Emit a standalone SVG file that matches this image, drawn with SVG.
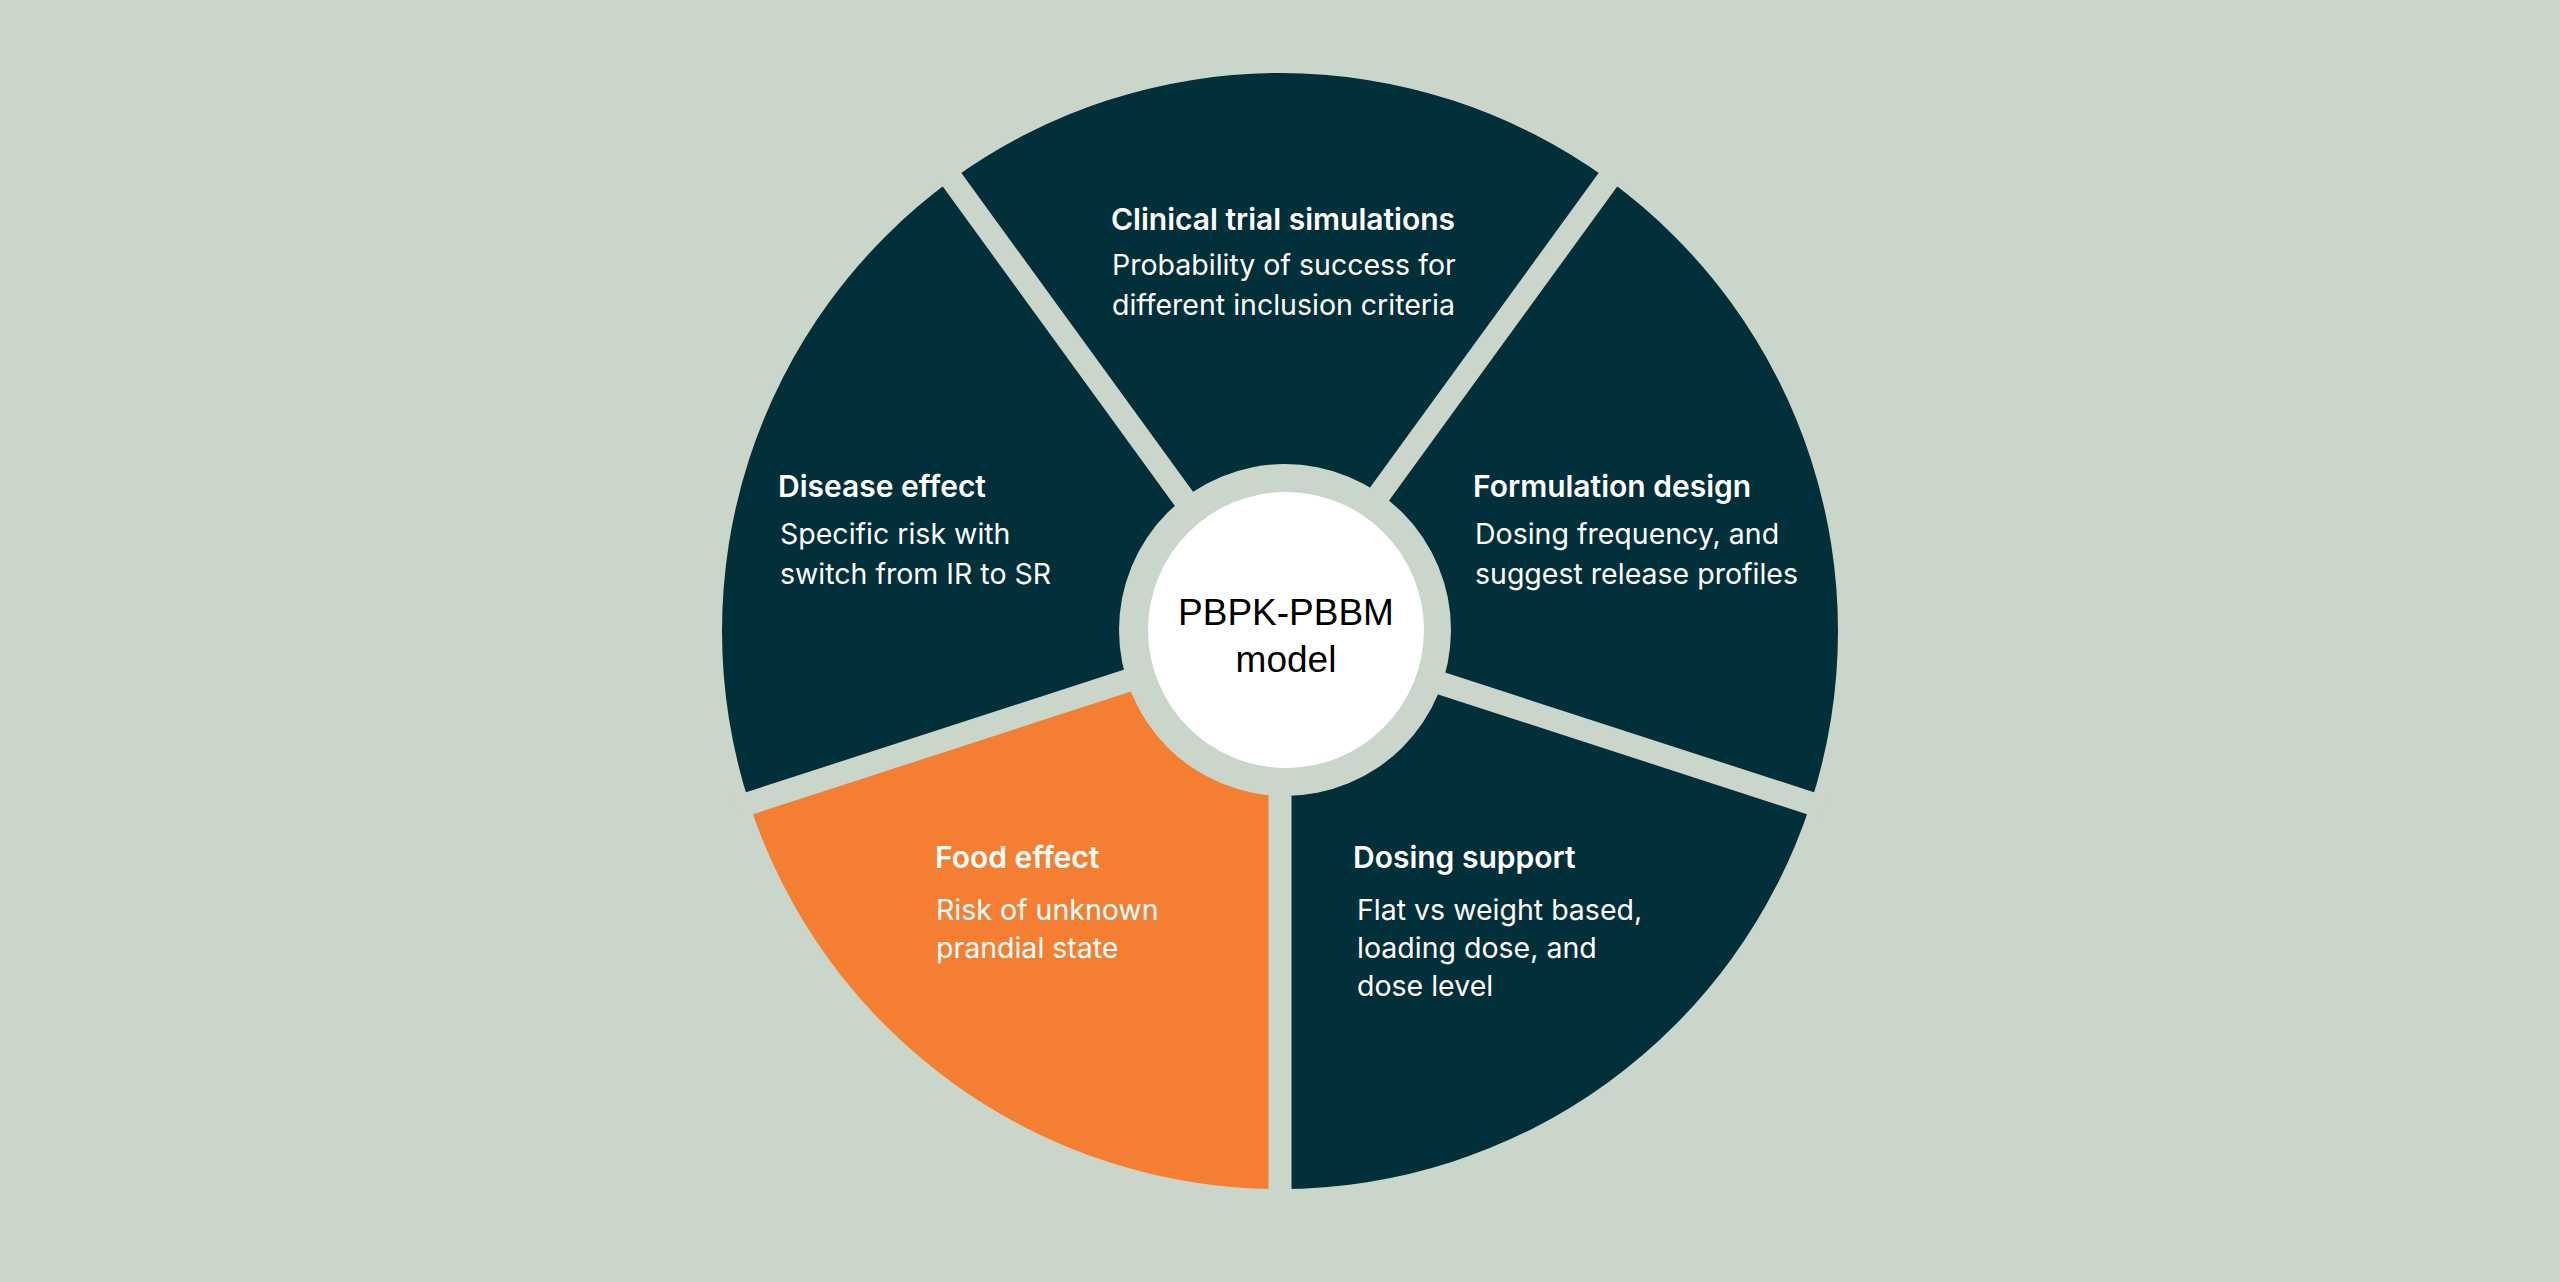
<svg xmlns="http://www.w3.org/2000/svg" width="2560" height="1282" viewBox="0 0 2560 1282">
<style>
.dark{fill:#02303a}
.orange{fill:#f47f33}
.t{font-family:Inter,"Liberation Sans",sans-serif;font-size:30px;font-weight:600;fill:#ffffff}
.b{font-family:Inter,"Liberation Sans",sans-serif;font-size:28.5px;fill:#ffffff}
.gap{stroke:#cbd6ca;stroke-width:23}
.c{font-family:"Liberation Sans",Arial,sans-serif;font-size:37px;fill:#000;text-anchor:middle}
</style>
<rect width="2560" height="1282" fill="#cbd6ca"/>
<g id="clinical">
<path class="dark" d="M1280 631 L952 179.6 A558 558 0 0 1 1608 179.6 Z"/>
<text class="t" x="1111" y="230">Clinical trial simulations</text>
<text class="b" x="1112" y="275">Probability of success for</text>
<text class="b" x="1112" y="315">different inclusion criteria</text>
</g>
<g id="formulation">
<path class="dark" d="M1280 631 L1608 179.6 A558 558 0 0 1 1810.7 803.4 Z"/>
<text class="t" x="1473" y="497">Formulation design</text>
<text class="b" x="1475" y="544">Dosing frequency, and</text>
<text class="b" x="1475" y="584">suggest release profiles</text>
</g>
<g id="dosing">
<path class="dark" d="M1280 631 L1810.7 803.4 A558 558 0 0 1 1280 1189 Z"/>
<text class="t" x="1353" y="868">Dosing support</text>
<text class="b" x="1357" y="920">Flat vs weight based,</text>
<text class="b" x="1357" y="958">loading dose, and</text>
<text class="b" x="1357" y="996">dose level</text>
</g>
<g id="food">
<path class="orange" d="M1280 631 L1280 1189 A558 558 0 0 1 749.3 803.4 Z"/>
<text class="t" x="935" y="868">Food effect</text>
<text class="b" x="936" y="920">Risk of unknown</text>
<text class="b" x="936" y="958">prandial state</text>
</g>
<g id="disease">
<path class="dark" d="M1280 631 L749.3 803.4 A558 558 0 0 1 952 179.6 Z"/>
<text class="t" x="778" y="497">Disease effect</text>
<text class="b" x="780" y="544">Specific risk with</text>
<text class="b" x="780" y="584">switch from IR to SR</text>
</g>
<g id="gaps" class="gap">
<line x1="1280" y1="631" x2="1280" y2="1200"/>
<line x1="1280" y1="631" x2="738" y2="807"/>
<line x1="1280" y1="631" x2="945" y2="170"/>
<line x1="1280" y1="631" x2="1615" y2="170"/>
<line x1="1280" y1="631" x2="1822" y2="807"/>
</g>
<g id="center">
<circle cx="1285" cy="630" r="166" fill="#cbd6ca"/>
<circle cx="1286" cy="630" r="138" fill="#ffffff"/>
<text class="c" x="1286" y="625">PBPK-PBBM</text>
<text class="c" x="1286" y="672">model</text>
</g>
</svg>
